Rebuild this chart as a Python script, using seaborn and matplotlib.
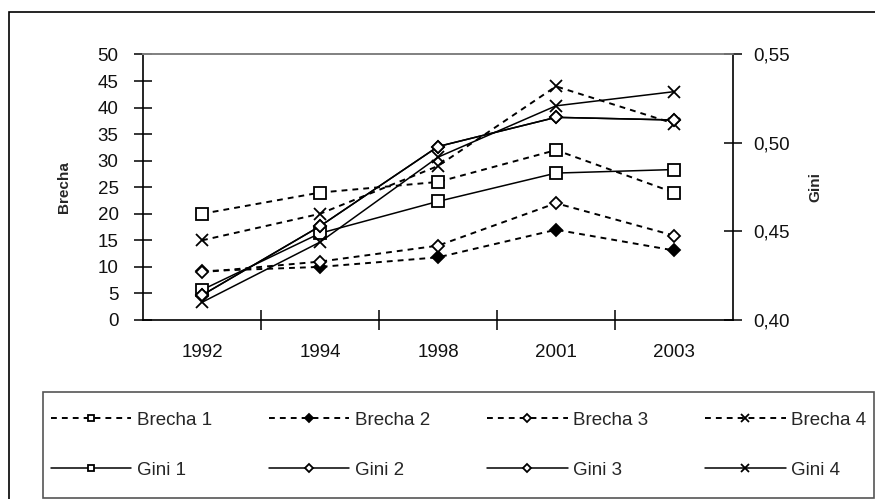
import matplotlib
matplotlib.use("Agg")
import matplotlib.pyplot as plt
import seaborn as sns
from matplotlib.patches import Rectangle
from matplotlib.ticker import FixedLocator, FixedFormatter, NullFormatter, FuncFormatter

# data
years = ["1992", "1994", "1998", "2001", "2003"]

brecha_1 = [20, 24, 26, 32, 24]
brecha_2 = [9.2, 10, 11.8, 17, 13.1]
brecha_3 = [9, 11, 14, 22, 15.9]
brecha_4 = [15, 20, 29, 44, 37]

gini_1 = [0.417, 0.449, 0.467, 0.483, 0.485]
gini_2 = [0.414, 0.453, 0.498, 0.5145, 0.513]
gini_3 = [0.414, 0.453, 0.498, 0.5145, 0.513]
gini_4 = [0.410, 0.444, 0.492, 0.521, 0.529]

sns.set_theme(style="ticks")
plt.rcParams['font.family'] = ['Liberation Sans', 'DejaVu Sans']

W, H = 875, 499
fig = plt.figure(figsize=(W / 100, H / 100), dpi=100)
ax = fig.add_axes([143 / W, 1 - 320 / H, (733 - 143) / W, (320 - 54.5) / H])
ax2 = ax.twinx()

dash = (0, (3, 2.6))
brecha_series = [
    ("Brecha 1", brecha_1, "s", "white", 8),
    ("Brecha 2", brecha_2, "D", "black", 6.5),
    ("Brecha 3", brecha_3, "D", "white", 6.5),
    ("Brecha 4", brecha_4, "x", "black", 9),
]
gini_series = [
    ("Gini 1", gini_1, "s", "white", 8),
    ("Gini 2", gini_2, "D", "white", 6.5),
    ("Gini 3", gini_3, "D", "white", 6.5),
    ("Gini 4", gini_4, "x", "black", 9),
]

for name, vals, mk, fc, ms in brecha_series:
    sns.lineplot(x=years, y=vals, ax=ax, color="black", linewidth=1.4,
                 linestyle=dash, marker=mk, markerfacecolor=fc,
                 markeredgecolor="black", markersize=ms, markeredgewidth=1.3,
                 label=name, legend=False, sort=False)

for name, vals, mk, fc, ms in gini_series:
    sns.lineplot(x=years, y=vals, ax=ax2, color="black", linewidth=1.1,
                 linestyle="-", marker=mk, markerfacecolor=fc,
                 markeredgecolor="black", markersize=ms, markeredgewidth=1.3,
                 label=name, legend=False, sort=False)

# x axis: category boundaries as ticks, labels in the middle
ax.set_xlim(-0.5, 4.5)
ax.xaxis.set_major_locator(FixedLocator([0.5, 1.5, 2.5, 3.5]))
ax.xaxis.set_major_formatter(NullFormatter())
ax.xaxis.set_minor_locator(FixedLocator(range(len(years))))
ax.xaxis.set_minor_formatter(FixedFormatter(years))
ax.tick_params(axis="x", which="major", direction="inout", length=14, width=1.1, color="black")
ax.tick_params(axis="x", which="minor", length=0, pad=17, labelsize=13.5, labelcolor="#111111")

ax.set_ylim(0, 50)
ax.set_yticks(range(0, 51, 5))
ax.tick_params(axis="y", direction="inout", length=13, width=1.1, color="black",
               pad=11, labelsize=13.5, labelcolor="#111111")
ax.set_xlabel("")
ax.set_ylabel("")

ax2.set_ylim(0.40, 0.55)
ax2.set_yticks([0.40, 0.45, 0.50, 0.55])
ax2.yaxis.set_major_formatter(FuncFormatter(lambda v, p: f"{v:.2f}".replace(".", ",")))
ax2.tick_params(axis="y", direction="inout", length=13, width=1.1, color="black",
                pad=8, labelsize=13.5, labelcolor="#111111")
ax2.set_ylabel("")

for a in (ax, ax2):
    for s in a.spines.values():
        s.set_color("black")
        s.set_linewidth(1.2)
    a.spines["top"].set_color("#808080")
ax.spines["right"].set_visible(False)
ax2.spines["left"].set_visible(False)
ax2.spines["bottom"].set_visible(False)

fig.text(64 / W, 1 - 187 / H, "Brecha", rotation=90, ha="center", va="center",
         fontsize=11, fontweight="bold")
fig.text(815 / W, 1 - 187 / H, "Gini", rotation=90, ha="center", va="center",
         fontsize=11, fontweight="bold")

# outer border and legend box
fig.patches.append(Rectangle((9 / W, -0.1), 1.2, 0.1 + 1 - 12 / H, transform=fig.transFigure,
                             fill=False, edgecolor="black", linewidth=1.2))
leg_box = (43 / W, 1 - 498 / H, (874 - 43) / W, (498 - 392) / H)
fig.patches.append(Rectangle(leg_box[:2], leg_box[2], leg_box[3], transform=fig.transFigure,
                             fill=False, edgecolor="#555555", linewidth=1.2))

h1, l1 = ax.get_legend_handles_labels()
h2, l2 = ax2.get_legend_handles_labels()
handles, labels = [], []
for i in range(4):
    handles += [h1[i], h2[i]]
    labels += [l1[i], l2[i]]
fig.legend(handles, labels, ncol=4, loc="center", bbox_to_anchor=leg_box, mode="expand",
           frameon=False, fontsize=13.5, handlelength=4.3, handletextpad=0.3,
           labelspacing=1.75, markerscale=0.6, borderpad=0.4, borderaxespad=0)

fig.savefig("out.png", dpi=100)
